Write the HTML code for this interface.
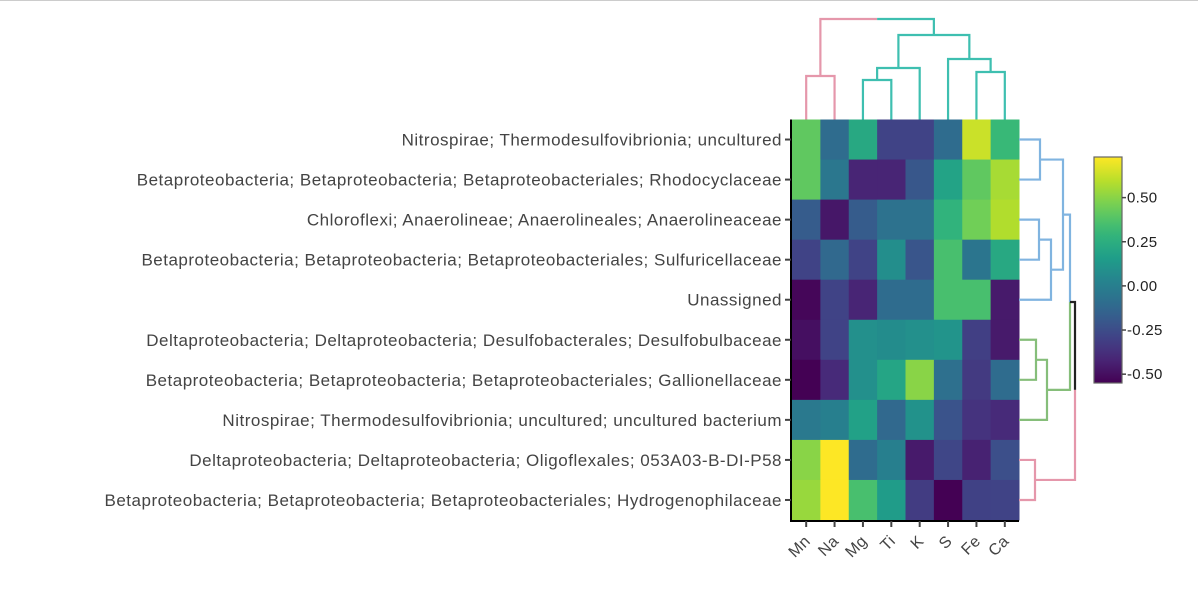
<!DOCTYPE html>
<html><head><meta charset="utf-8"><style>
body{margin:0;background:#fff;width:1198px;height:598px;overflow:hidden}
svg{position:absolute;left:0;top:0;font-family:"Liberation Sans","DejaVu Sans",sans-serif}
</style></head><body>
<div style="position:absolute;left:0;top:0;width:1198px;height:1px;background:#ccc"></div>
<svg id="c" width="1198" height="598"></svg>
<script>
const columns=["Mn","Na","Mg","Ti","K","S","Fe","Ca"];
const rows=["Nitrospirae; Thermodesulfovibrionia; uncultured","Betaproteobacteria; Betaproteobacteria; Betaproteobacteriales; Rhodocyclaceae","Chloroflexi; Anaerolineae; Anaerolineales; Anaerolineaceae","Betaproteobacteria; Betaproteobacteria; Betaproteobacteriales; Sulfuricellaceae","Unassigned","Deltaproteobacteria; Deltaproteobacteria; Desulfobacterales; Desulfobulbaceae","Betaproteobacteria; Betaproteobacteria; Betaproteobacteriales; Gallionellaceae","Nitrospirae; Thermodesulfovibrionia; uncultured; uncultured bacterium","Deltaproteobacteria; Deltaproteobacteria; Oligoflexales; 053A03-B-DI-P58","Betaproteobacteria; Betaproteobacteria; Betaproteobacteriales; Hydrogenophilaceae"];
const row1=[0.41,-0.1,0.22,-0.29,-0.29,-0.1,0.63,0.31];
const row2=[0.41,-0.04,-0.42,-0.42,-0.2,0.19,0.41,0.56];
const row3=[-0.18,-0.47,-0.18,-0.07,-0.07,0.28,0.45,0.58];
const row4=[-0.29,-0.12,-0.29,0.08,-0.21,0.35,-0.05,0.22];
const row5=[-0.53,-0.29,-0.42,-0.1,-0.1,0.35,0.35,-0.46];
const row6=[-0.5,-0.29,0.09,0.07,0.09,0.11,-0.31,-0.46];
const row7=[-0.55,-0.4,0.09,0.2,0.5,-0.08,-0.33,-0.1];
const row8=[-0.03,0,0.18,-0.12,0.1,-0.22,-0.36,-0.4];
const row9=[0.5,0.73,-0.1,0,-0.46,-0.28,-0.43,-0.24];
const row10=[0.53,0.73,0.35,0.15,-0.32,-0.55,-0.3,-0.29];
const values=[row1,row2,row3,row4,row5,row6,row7,row8,row9,row10];
const cbTicks=[0.5,0.25,0,-0.25,-0.5];
const zmin=-0.55,zmax=0.73;

const V=["#440154","#482878","#3e4989","#31688e","#26828e","#1f9e89","#35b779","#6ece58","#b5de2b","#fde725"];
function hx(c){return [1,3,5].map(i=>parseInt(c.substr(i,2),16));}
function viridis(t){t=Math.max(0,Math.min(1,t));const s=t*(V.length-1),i=Math.min(Math.floor(s),V.length-2),f=s-i;const a=hx(V[i]),b=hx(V[i+1]);return `rgb(${a.map((v,k)=>Math.round(v+(b[k]-v)*f)).join(",")})`;}
const NS="http://www.w3.org/2000/svg";
const svg=document.getElementById('c');
function el(t,a,p){const e=document.createElementNS(NS,t);for(const k in a)e.setAttribute(k,a[k]);(p||svg).appendChild(e);return e;}
const X0=792,X1=1019,Y0=119.5,Y1=520;
const cw=(X1-X0)/columns.length,rh=(Y1-Y0)/rows.length;
const xc=i=>X0+cw*(i+0.5), yc=j=>Y0+rh*(j+0.5);
const cz=v=>viridis((v-zmin)/(zmax-zmin));
values.forEach((r,j)=>r.forEach((v,i)=>{
 const e=el('rect',{x:X0+cw*i,y:Y0+rh*j,width:cw+0.5,height:rh+0.5,fill:cz(v)});
 
 
}));
let a=el('line',{x1:X0-1,y1:Y0,x2:X0-1,y2:Y1+1,stroke:'#000','stroke-width':2});
a=el('line',{x1:X0-2,y1:Y1+1,x2:X1,y2:Y1+1,stroke:'#000','stroke-width':2});
rows.forEach((r,j)=>{
 el('line',{x1:X0-7,y1:yc(j),x2:X0-1,y2:yc(j),stroke:'#444','stroke-width':2});
 const t=el('text',{x:X0-10,y:yc(j)+6,'text-anchor':'end','font-size':17,'letter-spacing':0.5,fill:'#444'});t.textContent=r;
 
});
columns.forEach((c,i)=>{
 el('line',{x1:xc(i),y1:Y1+1,x2:xc(i),y2:Y1+7,stroke:'#444','stroke-width':2});
 const t=el('text',{x:xc(i)+5,y:Y1+22,'text-anchor':'end','font-size':16,'letter-spacing':0.4,fill:'#444',transform:`rotate(-45 ${xc(i)+5} ${Y1+22})`});t.textContent=c;
 
});
function U(xa,xb,y,ya,yb,col){const p=el('path',{d:`M${xa},${ya}V${y}H${xb}V${yb}`,fill:'none',stroke:col,'stroke-width':2.2});}
function R(ya,yb,x,xa,xb,col){const p=el('path',{d:`M${xa},${ya}H${x}V${yb}H${xb}`,fill:'none',stroke:col,'stroke-width':2.2});}
const pk='#e597ab',tl='#3ebfb0',bl='#80b4e0',gr='#86be7a';
U(xc(0),xc(1),76,Y0,Y0,pk);
U(xc(2),xc(3),80,Y0,Y0,tl);
U((xc(2)+xc(3))/2,xc(4),68,80,Y0,tl);
U(xc(6),xc(7),72,Y0,Y0,tl);
U(xc(5),(xc(6)+xc(7))/2,59,Y0,72,tl);
const l1=((xc(2)+xc(3))/2+xc(4))/2,r1=(xc(5)+(xc(6)+xc(7))/2)/2;
U(l1,r1,35,68,59,tl);
const p1=(xc(0)+xc(1))/2,p2=(l1+r1)/2,pm=(p1+p2)/2;
U(p1,pm,19,76,19,pk);U(pm,p2,19,19,35,tl);
R(yc(0),yc(1),1040,X1,X1,bl);
R(yc(2),yc(3),1039,X1,X1,bl);
R((yc(2)+yc(3))/2,yc(4),1051,1039,X1,bl);
const b3=((yc(2)+yc(3))/2+yc(4))/2;
R((yc(0)+yc(1))/2,b3,1063,1040,1051,bl);
const b4=((yc(0)+yc(1))/2+b3)/2;
R(yc(5),yc(6),1036,X1,X1,gr);
R((yc(5)+yc(6))/2,yc(7),1047,1036,X1,gr);
const g2=((yc(5)+yc(6))/2+yc(7))/2;
R(b4,302,1070,1063,1070,bl);R(302,g2,1070,1070,1047,gr);
el('path',{d:`M1070,302H1075V${g2}`,fill:'none',stroke:'#222','stroke-width':2.2});
R(yc(8),yc(9),1035,X1,X1,pk);
el('path',{d:`M1075,${g2}V${(yc(8)+yc(9))/2}H1035`,fill:'none',stroke:pk,'stroke-width':2.2});
const defs=el('defs',{});const lg=el('linearGradient',{id:'g',x1:0,y1:1,x2:0,y2:0},defs);
for(let k=0;k<=20;k++)el('stop',{offset:k/20,'stop-color':viridis(k/20)},lg);
const CB0=157,CB1=383,cy=v=>CB1-(v-zmin)/(zmax-zmin)*(CB1-CB0);
const cb=el('rect',{x:1094,y:CB0,width:28,height:CB1-CB0,fill:'url(#g)',stroke:'#666','stroke-width':1.2});

cbTicks.forEach(v=>{el('line',{x1:1122,y1:cy(v),x2:1126,y2:cy(v),stroke:'#444','stroke-width':1.5});
 const t=el('text',{x:1127,y:cy(v)+5,'font-size':15,'letter-spacing':0.3,fill:'#222'});t.textContent=v<0?'-'+Math.abs(v).toFixed(2):v.toFixed(2);
 });
</script></body></html>
